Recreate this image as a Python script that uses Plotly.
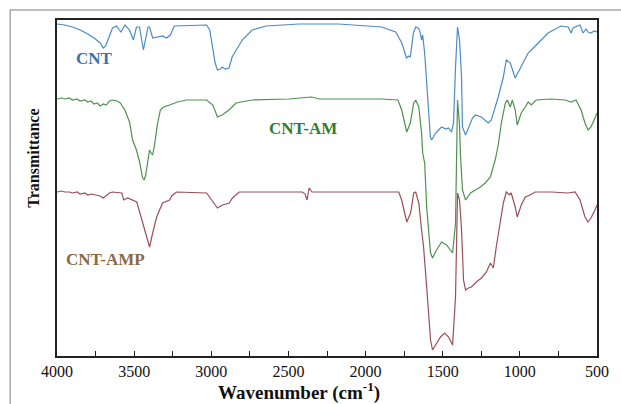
import plotly.graph_objects as go

# ---- data (wavenumber cm-1, transmittance a.u., curves offset) ----
cnt_wn = [4000, 3950, 3900, 3850, 3800, 3760, 3720, 3700, 3685, 3660, 3640, 3615, 3585, 3560, 3530,
          3505, 3485, 3465, 3440, 3410, 3400, 3380, 3350, 3315, 3290, 3265, 3240, 3080, 3030, 3010,
          2995, 2975, 2960, 2940, 2930, 2910, 2885, 2865, 2830, 2800, 2735, 2645, 2430, 2175, 1895,
          1805, 1765, 1735, 1720, 1710, 1690, 1675, 1660, 1650, 1637, 1630, 1617, 1605, 1590, 1580,
          1572, 1546, 1527, 1507, 1480, 1462, 1443, 1430, 1417, 1404, 1391, 1385, 1378, 1372, 1352,
          1333, 1307, 1288, 1250, 1205, 1185, 1140, 1107, 1088, 1062, 1043, 1030, 1010, 978, 946,
          881, 817, 733, 687, 668, 655, 642, 610, 590, 571, 558, 539, 519, 500]
cnt_t = [332, 331, 329, 326, 322, 318, 313, 308, 310, 320, 328, 330, 324, 331, 326,
         316, 329, 329, 306, 329, 329, 318, 319, 320, 318, 321, 330, 331, 331, 326,
         311, 293, 286, 287, 289, 287, 288, 299, 308, 316, 326, 330, 332, 332, 329,
         324, 313, 298, 300, 299, 323, 329, 328, 326, 316, 321, 303, 273, 241, 219,
         216, 223, 226, 229, 227, 228, 224, 233, 289, 329, 316, 296, 279, 229, 221,
         228, 238, 241, 239, 233, 236, 259, 279, 296, 293, 284, 278, 284, 294, 303,
         313, 323, 330, 329, 323, 328, 329, 331, 323, 327, 324, 323, 325, 324]

am_wn = [4000, 3970, 3950, 3920, 3900, 3870, 3850, 3820, 3800, 3780, 3760, 3740, 3720, 3700, 3680,
         3660, 3640, 3610, 3590, 3560, 3530, 3510, 3485, 3465, 3445, 3435, 3425, 3412, 3400, 3390,
         3380, 3368, 3350, 3330, 3310, 3270, 3220, 3160, 3030, 2990, 2960, 2930, 2885, 2840, 2735,
         2500, 2390, 2350, 2300, 1900, 1790, 1766, 1733, 1710, 1688, 1675, 1655, 1637, 1630, 1617,
         1604, 1579, 1566, 1540, 1507, 1475, 1436, 1417, 1404, 1391, 1385, 1372, 1352, 1320, 1288,
         1256, 1224, 1191, 1160, 1140, 1120, 1094, 1081, 1062, 1049, 1030, 1017, 991, 965, 946,
         926, 894, 797, 707, 668, 636, 603, 578, 558, 539, 513, 500]
am_t = [257, 258, 257, 258, 256, 257, 255, 256, 254, 255, 252, 253, 250, 252, 251,
        255, 256, 255, 253, 246, 234, 216, 206, 194, 178, 176, 181, 196, 206, 203,
        201, 211, 231, 246, 249, 251, 254, 256, 256, 251, 239, 241, 246, 253, 256,
        257, 259, 259, 257, 257, 256, 246, 224, 233, 253, 256, 249, 223, 203, 193,
        149, 103, 98, 106, 114, 111, 103, 133, 256, 231, 201, 166, 156, 163, 166,
        169, 173, 179, 196, 211, 233, 253, 256, 249, 256, 246, 231, 243, 249, 254,
        251, 256, 257, 256, 254, 256, 246, 233, 226, 229, 238, 243]

amp_wn = [4000, 3970, 3950, 3920, 3900, 3870, 3850, 3820, 3800, 3780, 3750, 3720, 3700, 3680, 3660,
          3640, 3580, 3567, 3542, 3483, 3464, 3432, 3400, 3380, 3354, 3316, 3270, 3257, 3225, 3030,
          3000, 2960, 2928, 2883, 2863, 2818, 2410, 2392, 2379, 2366, 2347, 1785, 1766, 1733, 1708,
          1688, 1675, 1655, 1637, 1624, 1604, 1579, 1566, 1546, 1514, 1488, 1462, 1436, 1417, 1404,
          1391, 1378, 1365, 1352, 1333, 1314, 1282, 1249, 1217, 1191, 1172, 1153, 1127, 1107, 1088,
          1068, 1056, 1030, 1017, 991, 965, 933, 901, 797, 687, 642, 610, 578, 558, 539, 513, 500]
amp_t = [164, 165, 164, 164, 163, 164, 162, 163, 161, 162, 161, 160, 158, 161, 163,
         164, 163, 156, 158, 154, 144, 126, 109, 123, 139, 153, 156, 160, 164, 163,
         156, 148, 151, 153, 158, 164, 164, 162, 156, 168, 164, 164, 156, 134, 143,
         163, 164, 153, 126, 109, 69, 16, 6, 11, 19, 23, 19, 11, 59, 163,
         156, 126, 76, 66, 68, 69, 74, 78, 84, 93, 88, 109, 133, 153, 164,
         161, 163, 149, 139, 151, 159, 161, 164, 164, 163, 164, 156, 139, 134, 138, 146, 151]

series_names = ["CNT", "CNT-AM", "CNT-AMP"]
label_wn = [3755, 2405, 3684]
label_t = [298, 228, 97]
x_tick_vals = [4000, 3500, 3000, 2500, 2000, 1500, 1000, 500]
x_tick_text = ["4000", "3500", "3000", "2500", "2000", "1500", "1000", "500"]

line_colors = ["#4b8cc6", "#4f9150", "#9b4f57"]
label_colors = ["#3a73aa", "#2f7d32", "#8c6845"]

serif = "Liberation Serif, Times New Roman, serif"

fig = go.Figure()
for wn, t, name, col in zip([cnt_wn, am_wn, amp_wn], [cnt_t, am_t, amp_t], series_names, line_colors):
    fig.add_trace(go.Scatter(x=wn, y=t, mode="lines", name=name,
                             line=dict(color=col, width=1.2), showlegend=False))

for name, xw, yt, col in zip(series_names, label_wn, label_t, label_colors):
    fig.add_annotation(x=xw, y=yt, text="<b>%s</b>" % name, showarrow=False,
                       font=dict(family=serif, size=17, color=col))

fig.update_layout(
    width=621, height=404,
    margin=dict(l=57, r=22, t=20, b=48),
    paper_bgcolor="white", plot_bgcolor="white",
    font=dict(family=serif),
    xaxis=dict(range=[4000, 500], tickvals=x_tick_vals, ticktext=x_tick_text,
               ticks="inside", ticklen=5, tickwidth=1.2, tickcolor="#222",
               minor=dict(dtick=250, ticks="inside", ticklen=5, tickwidth=1.2, tickcolor="#222"),
               showline=True, linecolor="#222", linewidth=1.8, mirror=True,
               showgrid=False, zeroline=False,
               tickfont=dict(family=serif, size=16, color="#111")),
    yaxis=dict(range=[0, 336], showticklabels=False, ticks="",
               showline=True, linecolor="#222", linewidth=1.8, mirror=True,
               showgrid=False, zeroline=False),
)

# axis titles
fig.add_annotation(xref="paper", yref="paper", x=0.448, y=-0.106, yanchor="middle",
                   text="<b>Wavenumber (cm<sup>-1</sup>)</b>", showarrow=False,
                   font=dict(family=serif, size=19, color="#111"))
fig.add_annotation(xref="paper", yref="paper", x=-0.0646, y=0.589, textangle=-90,
                   text="<b>Transmittance</b>", showarrow=False,
                   font=dict(family=serif, size=16, color="#111"))

# outer image frame
fig.add_shape(type="path", xref="paper", yref="paper",
              path="M -0.0867,-0.3 L -0.0867,1.0298 L 1.2,1.0298",
              line=dict(color="#a8a8a8", width=1.5))

fig.write_html("out.html")
